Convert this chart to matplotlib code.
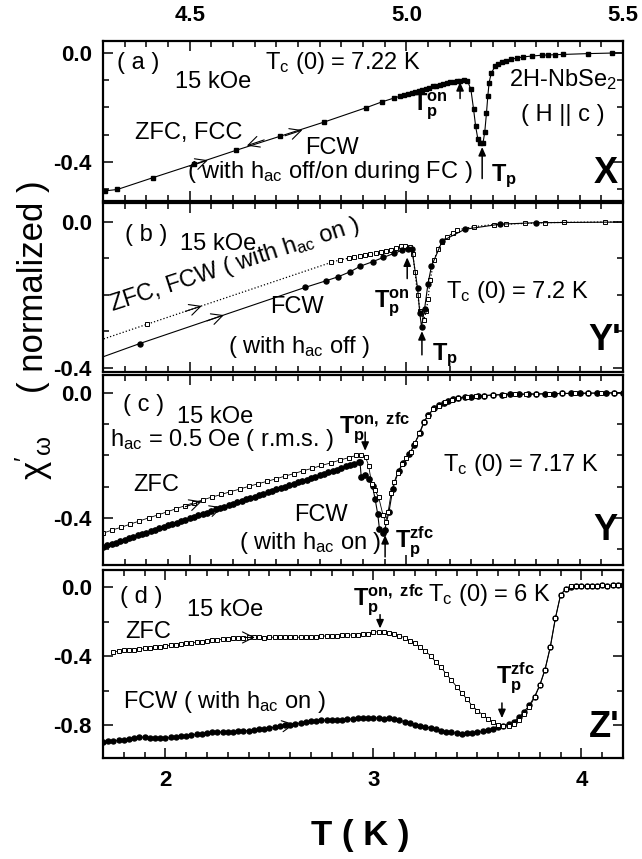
import matplotlib
matplotlib.use("Agg")
import matplotlib.pyplot as plt
from matplotlib.ticker import MultipleLocator, FormatStrFormatter

plt.rcParams['font.family'] = ['Liberation Sans', 'DejaVu Sans']
plt.rcParams['mathtext.fontset'] = 'custom'
plt.rcParams['mathtext.rm'] = 'Liberation Sans'
plt.rcParams['mathtext.it'] = 'Liberation Sans:italic'
plt.rcParams['mathtext.bf'] = 'Liberation Sans:bold'
plt.rcParams['mathtext.default'] = 'regular'
plt.rcParams['axes.unicode_minus'] = False

# ---- panel (a) : X, ZFC / FCC / FCW, filled squares
a_T = [4.305, 4.333, 4.415, 4.510, 4.607, 4.708, 4.810, 4.908, 4.944, 4.972,
       4.985, 4.995, 5.005, 5.013, 5.021, 5.029, 5.037, 5.045, 5.053, 5.061,
       5.069, 5.077, 5.085, 5.093, 5.101, 5.109, 5.117, 5.125, 5.133, 5.141,
       5.149, 5.155, 5.160, 5.165, 5.170, 5.177, 5.181, 5.185, 5.188, 5.191,
       5.196, 5.205, 5.212, 5.220, 5.230, 5.242, 5.255, 5.270, 5.289, 5.312,
       5.328, 5.343, 5.362, 5.420, 5.474, 5.520]
a_chi = [-0.505, -0.500, -0.457, -0.408, -0.357, -0.306, -0.254, -0.201, -0.180, -0.166,
         -0.160, -0.156, -0.152, -0.148, -0.144, -0.140, -0.136, -0.132, -0.128, -0.124,
         -0.121, -0.117, -0.114, -0.111, -0.108, -0.106, -0.104, -0.103, -0.102, -0.103,
         -0.135, -0.205, -0.270, -0.315, -0.330, -0.330, -0.290, -0.220, -0.160, -0.110,
         -0.075, -0.050, -0.042, -0.036, -0.030, -0.025, -0.020, -0.016, -0.013, -0.010,
         -0.009, -0.008, -0.007, -0.004, -0.002, -0.001]

# ---- panel (b) : Y'
b_off_T = [4.280, 4.385, 4.767, 4.815, 4.843, 4.871, 4.894, 4.922, 4.947, 4.972,
           4.991, 5.005, 5.013, 5.026, 5.031, 5.035, 5.042, 5.050, 5.058, 5.083,
           5.135, 5.216, 5.300, 5.520]
b_off_chi = [-0.379, -0.334, -0.180, -0.162, -0.151, -0.137, -0.122, -0.110, -0.098, -0.087,
             -0.078, -0.075, -0.076, -0.183, -0.250, -0.288, -0.240, -0.170, -0.122, -0.053,
             -0.021, -0.007, -0.003, -0.001]
b_on_T = [4.280, 4.402, 4.826, 4.846, 4.868, 4.880, 4.893, 4.905, 4.917, 4.929,
          4.941, 4.953, 4.965, 4.977, 4.988, 4.998, 5.008, 5.015, 5.020, 5.026,
          5.032, 5.040, 5.046, 5.050, 5.055, 5.064, 5.074, 5.083, 5.093, 5.107,
          5.117, 5.155, 5.202, 5.230, 5.273, 5.321, 5.363, 5.458, 5.520]
b_on_chi = [-0.330, -0.281, -0.112, -0.105, -0.100, -0.098, -0.095, -0.092, -0.089, -0.086,
            -0.083, -0.080, -0.077, -0.072, -0.068, -0.067, -0.070, -0.090, -0.137, -0.200,
            -0.246, -0.270, -0.245, -0.213, -0.160, -0.105, -0.074, -0.055, -0.042, -0.032,
            -0.023, -0.014, -0.008, -0.007, -0.005, -0.003, -0.002, -0.001, -0.001]

# ---- panel (c) : Y
c_zfc_T = [4.300, 4.321, 4.342, 4.363, 4.384, 4.405, 4.426, 4.447, 4.468, 4.489,
           4.510, 4.531, 4.552, 4.573, 4.594, 4.615, 4.636, 4.657, 4.678, 4.699,
           4.720, 4.741, 4.762, 4.783, 4.804, 4.825, 4.846, 4.867, 4.884, 4.896,
           4.906, 4.913, 4.920, 4.927, 4.936, 4.946, 4.952, 4.958, 4.965, 4.972,
           4.980, 4.990, 5.000, 5.010, 5.020, 5.030, 5.040, 5.050, 5.062, 5.075,
           5.090, 5.105, 5.120, 5.140, 5.160, 5.180, 5.200, 5.225, 5.250, 5.275,
           5.300, 5.330, 5.360, 5.390, 5.420, 5.450, 5.480, 5.510]
c_zfc_chi = [-0.449, -0.439, -0.430, -0.420, -0.410, -0.400, -0.391, -0.381, -0.371, -0.361,
             -0.351, -0.342, -0.333, -0.325, -0.316, -0.308, -0.299, -0.291, -0.283, -0.275,
             -0.266, -0.258, -0.249, -0.241, -0.232, -0.224, -0.215, -0.207, -0.200, -0.197,
             -0.205, -0.233, -0.290, -0.311, -0.333, -0.390, -0.412, -0.380, -0.320, -0.285,
             -0.255, -0.228, -0.208, -0.190, -0.160, -0.128, -0.094, -0.072, -0.052, -0.040,
             -0.030, -0.022, -0.017, -0.013, -0.010, -0.008, -0.006, -0.005, -0.004, -0.003,
             -0.003, -0.002, -0.001, -0.001, 0.000, 0.000, 0.001, 0.001]
c_fcw_T = [4.30, 4.31, 4.32, 4.33, 4.34, 4.35, 4.36, 4.37, 4.38, 4.39,
           4.40, 4.41, 4.42, 4.43, 4.44, 4.45, 4.46, 4.47, 4.48, 4.49,
           4.50, 4.51, 4.52, 4.53, 4.54, 4.55, 4.56, 4.57, 4.58, 4.59,
           4.60, 4.61, 4.62, 4.63, 4.64, 4.65, 4.66, 4.67, 4.68, 4.69,
           4.70, 4.71, 4.72, 4.73, 4.74, 4.75, 4.76, 4.77, 4.78, 4.79,
           4.80, 4.81, 4.82, 4.83, 4.84, 4.85, 4.86, 4.87, 4.88, 4.89,
           4.893, 4.896, 4.905, 4.915, 4.922, 4.928, 4.934, 4.938, 4.946, 4.950,
           4.960, 4.969, 4.982, 4.993, 5.007, 5.017, 5.031, 5.041, 5.050, 5.064,
           5.076, 5.088, 5.097, 5.107, 5.120, 5.135, 5.150, 5.165, 5.180, 5.200,
           5.220, 5.240, 5.260, 5.280, 5.300, 5.320, 5.340, 5.360, 5.380, 5.400,
           5.420, 5.440, 5.460, 5.480, 5.500]
c_fcw_chi = [-0.493, -0.488, -0.484, -0.479, -0.475, -0.470, -0.465, -0.461, -0.456, -0.452,
             -0.447, -0.442, -0.438, -0.433, -0.429, -0.424, -0.419, -0.415, -0.410, -0.406,
             -0.401, -0.396, -0.392, -0.387, -0.383, -0.378, -0.373, -0.369, -0.364, -0.360,
             -0.355, -0.350, -0.346, -0.341, -0.337, -0.332, -0.327, -0.323, -0.318, -0.314,
             -0.309, -0.304, -0.300, -0.295, -0.291, -0.286, -0.281, -0.277, -0.272, -0.268,
             -0.263, -0.258, -0.254, -0.249, -0.245, -0.240, -0.235, -0.231, -0.226, -0.222,
             -0.220, -0.270, -0.263, -0.276, -0.299, -0.340, -0.388, -0.436, -0.447, -0.439,
             -0.380, -0.306, -0.249, -0.225, -0.196, -0.167, -0.129, -0.092, -0.071, -0.049,
             -0.038, -0.031, -0.024, -0.018, -0.015, -0.013, -0.011, -0.009, -0.008, -0.006,
             -0.005, -0.004, -0.004, -0.003, -0.003, -0.002, -0.002, -0.001, -0.001, -0.001,
             0.000, 0.000, 0.000, 0.001, 0.001]

# ---- panel (d) : Z'
d_zfc_T = [1.750, 1.775, 1.800, 1.825, 1.850, 1.875, 1.900, 1.925, 1.950, 1.975,
           2.000, 2.025, 2.050, 2.075, 2.100, 2.125, 2.150, 2.175, 2.200, 2.225,
           2.250, 2.275, 2.300, 2.325, 2.350, 2.375, 2.400, 2.425, 2.450, 2.475,
           2.500, 2.525, 2.550, 2.575, 2.600, 2.625, 2.650, 2.675, 2.700, 2.725,
           2.750, 2.775, 2.800, 2.825, 2.850, 2.875, 2.900, 2.925, 2.950, 2.975,
           3.000, 3.025, 3.050, 3.075, 3.100, 3.125, 3.150, 3.175, 3.200, 3.225,
           3.250, 3.275, 3.300, 3.325, 3.350, 3.375, 3.400, 3.425, 3.450, 3.475,
           3.500, 3.525, 3.550, 3.575, 3.600, 3.625, 3.650, 3.675, 3.700, 3.725,
           3.750, 3.775, 3.800, 3.825, 3.850, 3.875, 3.900, 3.925, 3.950, 3.975,
           4.000, 4.025, 4.050, 4.075, 4.100, 4.125, 4.150, 4.175, 4.200]
d_zfc_chi = [-0.378, -0.370, -0.367, -0.364, -0.362, -0.360, -0.356, -0.352, -0.349, -0.345,
             -0.342, -0.338, -0.334, -0.330, -0.326, -0.323, -0.320, -0.316, -0.312, -0.309,
             -0.305, -0.302, -0.299, -0.297, -0.295, -0.293, -0.292, -0.291, -0.292, -0.293,
             -0.292, -0.290, -0.291, -0.290, -0.289, -0.290, -0.291, -0.290, -0.289, -0.287,
             -0.285, -0.283, -0.282, -0.281, -0.280, -0.279, -0.277, -0.275, -0.272, -0.270,
             -0.262, -0.258, -0.261, -0.264, -0.272, -0.283, -0.293, -0.312, -0.327, -0.349,
             -0.372, -0.398, -0.435, -0.465, -0.503, -0.540, -0.577, -0.614, -0.650, -0.688,
             -0.716, -0.740, -0.763, -0.785, -0.800, -0.806, -0.804, -0.792, -0.768, -0.735,
             -0.695, -0.640, -0.570, -0.480, -0.350, -0.180, -0.045, -0.010, 0.004, 0.007,
             0.008, 0.006, 0.009, 0.008, 0.010, 0.008, 0.011, 0.010, 0.012]
d_fcw_T = [1.700, 1.725, 1.750, 1.775, 1.800, 1.825, 1.850, 1.875, 1.900, 1.925,
           1.950, 1.975, 2.000, 2.025, 2.050, 2.075, 2.100, 2.125, 2.150, 2.175,
           2.200, 2.225, 2.250, 2.275, 2.300, 2.325, 2.350, 2.375, 2.400, 2.425,
           2.450, 2.475, 2.500, 2.525, 2.550, 2.575, 2.600, 2.625, 2.650, 2.675,
           2.700, 2.725, 2.750, 2.775, 2.800, 2.825, 2.850, 2.875, 2.900, 2.925,
           2.950, 2.975, 3.000, 3.025, 3.050, 3.075, 3.100, 3.125, 3.150, 3.175,
           3.200, 3.225, 3.250, 3.275, 3.300, 3.325, 3.350, 3.375, 3.400, 3.425,
           3.450, 3.475, 3.500, 3.525, 3.550, 3.575, 3.600, 3.625, 3.650, 3.675,
           3.700, 3.725, 3.750, 3.775, 3.800, 3.825, 3.850, 3.875, 3.900, 3.925,
           3.950, 3.975, 4.000, 4.025, 4.050, 4.075, 4.100, 4.125, 4.150, 4.175, 4.200]
d_fcw_chi = [-0.900, -0.895, -0.892, -0.889, -0.885, -0.880, -0.874, -0.869, -0.871, -0.875,
             -0.877, -0.877, -0.875, -0.872, -0.868, -0.865, -0.862, -0.858, -0.853, -0.849,
             -0.846, -0.843, -0.841, -0.840, -0.839, -0.838, -0.836, -0.834, -0.832, -0.829,
             -0.825, -0.821, -0.817, -0.812, -0.807, -0.802, -0.798, -0.793, -0.788, -0.783,
             -0.779, -0.776, -0.773, -0.772, -0.771, -0.770, -0.768, -0.767, -0.764, -0.761,
             -0.759, -0.757, -0.757, -0.760, -0.762, -0.761, -0.765, -0.772, -0.780, -0.790,
             -0.797, -0.803, -0.810, -0.817, -0.825, -0.832, -0.838, -0.843, -0.847, -0.849,
             -0.848, -0.846, -0.842, -0.836, -0.829, -0.821, -0.813, -0.805, -0.796, -0.780,
             -0.755, -0.722, -0.685, -0.635, -0.568, -0.478, -0.350, -0.180, -0.045, -0.012,
             0.003, 0.006, 0.008, 0.006, 0.009, 0.008, 0.010, 0.008, 0.011, 0.010, 0.012]

top_ticks = [4.5, 5.0, 5.5]
top_labels = ['4.5', '5.0', '5.5']
bottom_ticks = [2, 3, 4]
bottom_labels = ['2', '3', '4']

fig = plt.figure(figsize=(6.42, 8.59), dpi=100)


def box(top, bottom):
    # axes rectangle from pixel rows of the reference
    return [103 / 642, 1 - bottom / 859, 520 / 642, (bottom - top) / 859]


ax_a = fig.add_axes(box(41, 201))
ax_b = fig.add_axes(box(203, 372))
ax_c = fig.add_axes(box(375, 565))
ax_d = fig.add_axes(box(570, 758))

TICK_FS = 16


def style(ax, xlim, ylim, xmaj, xmin, ymin):
    ax.set_xlim(*xlim)
    ax.set_ylim(*ylim)
    ax.xaxis.set_major_locator(MultipleLocator(xmaj))
    ax.xaxis.set_minor_locator(MultipleLocator(xmin))
    ax.yaxis.set_major_locator(MultipleLocator(0.4))
    ax.yaxis.set_minor_locator(MultipleLocator(ymin))
    ax.yaxis.set_major_formatter(FormatStrFormatter('%.1f'))
    ax.tick_params(which='both', direction='in', top=True, bottom=True,
                   left=True, right=True, width=1.1)
    ax.tick_params(which='major', length=7)
    ax.tick_params(which='minor', length=4.5)
    ax.tick_params(axis='y', labelsize=TICK_FS, pad=8)
    ax.tick_params(axis='x', labelsize=TICK_FS, labelbottom=False)
    for s in ax.spines.values():
        s.set_linewidth(1.6)


style(ax_a, (4.3, 5.5), (-0.542, 0.042), 0.5, 0.05, 0.1)
style(ax_b, (4.3, 5.5), (-0.412, 0.051), 0.5, 0.05, 0.1)
style(ax_c, (4.3, 5.5), (-0.551, 0.058), 0.5, 0.05, 0.1)
style(ax_d, (1.7, 4.2), (-0.991, 0.099), 1, 0.1, 0.2)

ax_a.set_xticks(top_ticks)
ax_a.set_xticklabels(top_labels, fontweight='bold')
ax_a.tick_params(axis='x', labeltop=True, labelbottom=False, pad=11)
ax_d.set_xticks(bottom_ticks)
ax_d.set_xticklabels(bottom_labels, fontweight='bold')
ax_d.tick_params(axis='x', labelbottom=True, pad=9)
for ax in (ax_a, ax_b, ax_c, ax_d):
    for lab in ax.get_yticklabels():
        lab.set_fontweight('bold')

# curves
ax_a.plot(a_T, a_chi, '-', color='k', lw=0.8, marker='s', ms=3.4, mfc='k', mec='k')

ax_b.plot(b_on_T, b_on_chi, ':', color='k', lw=0.9, marker='s', ms=3.4,
          mfc='white', mec='k', mew=0.7)
ax_b.plot(b_off_T, b_off_chi, '-', color='k', lw=0.8, marker='o', ms=3.6,
          mfc='k', mec='k')

ax_c.plot(c_fcw_T, c_fcw_chi, '-', color='k', lw=0.8, marker='o', ms=3.8,
          mfc='k', mec='k')
ax_c.plot(c_zfc_T, c_zfc_chi, '-', color='k', lw=0.6, marker='s', ms=3.4,
          mfc='white', mec='k', mew=0.7)

ax_d.plot(d_fcw_T, d_fcw_chi, '-', color='k', lw=0.8, marker='o', ms=3.6,
          mfc='k', mec='k')
ax_d.plot(d_zfc_T, d_zfc_chi, '-', color='k', lw=0.6, marker='s', ms=3.4,
          mfc='white', mec='k', mew=0.7)


def chevron(ax, x0, y0, x1, y1):
    ax.annotate('', xy=(x1, y1), xytext=(x0, y0),
                arrowprops=dict(arrowstyle='->,head_length=0.8,head_width=0.4',
                                lw=0.8, color='k', shrinkA=0, shrinkB=0))


def up_arrow(ax, x, y0, y1):
    ax.annotate('', xy=(x, y1), xytext=(x, y0),
                arrowprops=dict(arrowstyle='-|>,head_length=0.5,head_width=0.22',
                                lw=1.1, color='k', shrinkA=0, shrinkB=0))


FS = 17
BIG = 26

# panel (a)
ax_a.text(4.332, -0.038, '( a )', fontsize=FS, va='center')
ax_a.text(4.466, -0.108, '15 kOe', fontsize=FS, va='center')
ax_a.text(4.674, -0.038, 'T$_c$ (0) = 7.22 K', fontsize=FS, va='center')
ax_a.text(5.486, -0.100, '2H-NbSe$_2$', fontsize=FS, va='center', ha='right')
ax_a.text(5.362, -0.228, '( H || c )', fontsize=FS, va='center', ha='center')
ax_a.text(4.374, -0.295, 'ZFC, FCC', fontsize=FS, va='center')
ax_a.text(4.828, -0.350, 'FCW', fontsize=FS, va='center', ha='center')
ax_a.text(4.494, -0.435, '( with h$_{ac}$ off/on during FC )', fontsize=FS, va='center')
ax_a.text(5.461, -0.44, 'X', fontsize=BIG, fontweight='bold', va='center', ha='center')
ax_a.text(5.012, -0.212, r'$\mathbf{T_p^{on}}$', fontsize=FS, va='baseline')
up_arrow(ax_a, 5.124, -0.168, -0.108)
ax_a.text(5.195, -0.468, r'$\mathbf{T_p}$', fontsize=FS, va='baseline')
up_arrow(ax_a, 5.175, -0.46, -0.345)
chevron(ax_a, 4.50, -0.415, 4.542, -0.393)
chevron(ax_a, 4.72, -0.304, 4.76, -0.283)
chevron(ax_a, 4.672, -0.319, 4.632, -0.340)

# panel (b)
ax_b.text(4.351, -0.037, '( b )', fontsize=FS, va='center')
ax_b.text(4.478, -0.060, '15 kOe', fontsize=FS, va='center')
ax_b.text(4.32, -0.245, 'ZFC, FCW ( with h$_{ac}$ on )', fontsize=FS, rotation=18,
          rotation_mode='anchor', ha='left', va='baseline')
ax_b.text(4.748, -0.234, 'FCW', fontsize=FS, va='center', ha='center')
ax_b.text(4.752, -0.343, '( with h$_{ac}$ off )', fontsize=FS, va='center', ha='center')
ax_b.text(5.092, -0.193, 'T$_c$ (0) = 7.2 K', fontsize=FS, va='center')
ax_b.text(5.459, -0.325, "Y'", fontsize=BIG, fontweight='bold', va='center', ha='center')
ax_b.text(4.926, -0.236, r'$\mathbf{T_p^{on}}$', fontsize=FS, va='baseline')
up_arrow(ax_b, 5.002, -0.156, -0.098)
ax_b.text(5.059, -0.380, r'$\mathbf{T_p}$', fontsize=FS, va='baseline')
up_arrow(ax_b, 5.036, -0.365, -0.300)
chevron(ax_b, 4.49, -0.246, 4.528, -0.231)
chevron(ax_b, 4.54, -0.272, 4.579, -0.256)

# panel (c)
ax_c.text(4.346, -0.038, '( c )', fontsize=FS, va='center')
ax_c.text(4.471, -0.077, '15 kOe', fontsize=FS, va='center')
ax_c.text(4.316, -0.151, 'h$_{ac}$ = 0.5 Oe ( r.m.s. )', fontsize=FS, va='center')
ax_c.text(4.369, -0.295, 'ZFC', fontsize=FS, va='center')
ax_c.text(4.803, -0.391, 'FCW', fontsize=FS, va='center', ha='center')
ax_c.text(4.778, -0.481, '( with h$_{ac}$ on )', fontsize=FS, va='center', ha='center')
ax_c.text(5.085, -0.231, 'T$_c$ (0) = 7.17 K', fontsize=FS, va='center')
ax_c.text(5.459, -0.439, 'Y', fontsize=BIG, fontweight='bold', va='center', ha='center')
ax_c.text(4.845, -0.128, r'$\mathbf{T_p^{on,\ zfc}}$', fontsize=FS, va='baseline')
up_arrow(ax_c, 4.905, -0.125, -0.185)
ax_c.text(4.974, -0.494, r'$\mathbf{T_p^{zfc}}$', fontsize=FS, va='baseline')
up_arrow(ax_c, 4.951, -0.525, -0.455)
chevron(ax_c, 4.49, -0.364, 4.528, -0.347)
chevron(ax_c, 4.535, -0.384, 4.575, -0.366)

# panel (d)
ax_d.text(1.782, -0.058, '( d )', fontsize=FS, va='center')
ax_d.text(2.104, -0.133, '15 kOe', fontsize=FS, va='center')
ax_d.text(1.806, -0.261, 'ZFC', fontsize=FS, va='center')
ax_d.text(1.796, -0.667, 'FCW ( with h$_{ac}$ on )', fontsize=FS, va='center')
ax_d.text(3.263, -0.046, 'T$_c$ (0) = 6 K', fontsize=FS, va='center')
ax_d.text(4.109, -0.817, "Z'", fontsize=BIG, fontweight='bold', va='center', ha='center')
ax_d.text(2.902, -0.104, r'$\mathbf{T_p^{on,\ zfc}}$', fontsize=FS, va='baseline')
up_arrow(ax_d, 3.032, -0.160, -0.240)
ax_d.text(3.59, -0.557, r'$\mathbf{T_p^{zfc}}$', fontsize=FS, va='baseline')
up_arrow(ax_d, 3.618, -0.672, -0.76)
chevron(ax_d, 2.38, -0.292, 2.43, -0.292)
chevron(ax_d, 2.57, -0.805, 2.62, -0.795)

# axis titles
fig.text(34 / 642, 1 - 287 / 859, '( normalized )', fontsize=25,
         rotation=90, ha='center', va='center')
fig.text(34 / 642, 1 - 458 / 859, r"$\chi'_{\omega}$", fontsize=25,
         rotation=90, ha='center', va='center')
fig.text(360 / 642, 1 - 835 / 859, 'T ( K )', fontsize=25, fontweight='bold',
         ha='center', va='center')

fig.savefig('out.png', dpi=100)
